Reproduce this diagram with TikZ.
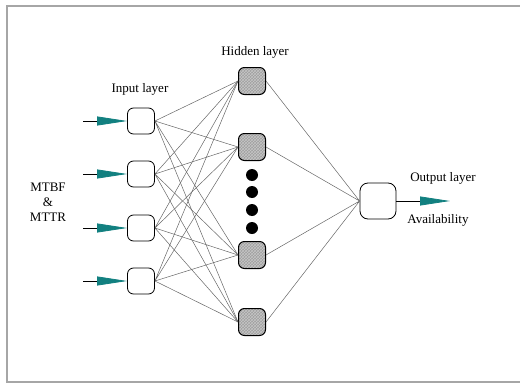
\documentclass[tikz,border=0pt]{standalone}
\usepackage{fontspec}
\setmainfont{Liberation Serif}
\usepackage{tikz}
\usetikzlibrary{patterns}
\usetikzlibrary{arrows.meta}

\definecolor{arrowteal}{RGB}{18,128,128}
\tikzset{
  inunit/.style={draw,line width=0.8pt,rounded corners=6pt,minimum width=27pt,minimum height=26pt,inner sep=0pt},
  hidunit/.style={draw,line width=1pt,rounded corners=6pt,minimum size=27pt,inner sep=0pt,preaction={fill=gray!75},pattern=crosshatch,pattern color=gray!45},
  outunit/.style={draw,line width=0.8pt,rounded corners=8pt,minimum size=36pt,inner sep=0pt},
  wire/.style={draw=black!60,line width=0.5pt},
  feed/.style={draw=black,line width=0.8pt,-{Triangle[length=30pt,width=9pt,color=arrowteal]}},
  lbl/.style={font=\fontsize{13}{15}\selectfont}
}

\begin{document}
\begin{tikzpicture}[x=1pt,y=-1pt]
\useasboundingbox (0,0) rectangle (520,383);
\draw[gray!70,line width=1.2pt] (520,6) -- (7,6) -- (7,382) -- (520,382);
\node[inunit] (I1) at (141,121) {};
\node[inunit] (I2) at (141,174) {};
\node[inunit] (I3) at (141,228) {};
\node[inunit] (I4) at (141,281) {};
\node[hidunit] (H1) at (252,81) {};
\node[hidunit] (H2) at (252,147) {};
\node[hidunit] (H3) at (252,255) {};
\node[hidunit] (H4) at (252,322) {};
\node[circle,fill=black,minimum size=12pt,inner sep=0pt] (D1) at (252,175) {};
\node[circle,fill=black,minimum size=12pt,inner sep=0pt] (D2) at (252,192) {};
\node[circle,fill=black,minimum size=12pt,inner sep=0pt] (D3) at (252,210) {};
\node[circle,fill=black,minimum size=12pt,inner sep=0pt] (D4) at (252,228) {};
\node[outunit] (O) at (378,201) {};
\coordinate (S1) at (83,121);
\coordinate (S2) at (83,174);
\coordinate (S3) at (83,228);
\coordinate (S4) at (83,281);
\coordinate (E) at (450,201);
\node[lbl] (inlbl) at (140,89) {Input layer};
\node[lbl] (hidlbl) at (255,52) {Hidden layer};
\node[lbl] (outlbl) at (443,178) {Output layer};
\node[lbl] (avail) at (438,220) {Availability};
\node[lbl,align=center] (mt) at (48,202) {MTBF\\\&\\MTTR};
% input -> hidden
\draw[wire] (I1.east) -- (H1.west) (I1.east) -- (H2.west) (I1.east) -- (H3.west) (I1.east) -- (H4.west);
\draw[wire] (I2.east) -- (H1.west) (I2.east) -- (H2.west) (I2.east) -- (H3.west) (I2.east) -- (H4.west);
\draw[wire] (I3.east) -- (H1.west) (I3.east) -- (H2.west) (I3.east) -- (H3.west) (I3.east) -- (H4.west);
\draw[wire] (I4.east) -- (H1.west) (I4.east) -- (H2.west) (I4.east) -- (H3.west) (I4.east) -- (H4.west);
% hidden -> output
\draw[wire] (H1.east) -- (O.west) (H2.east) -- (O.west) (H3.east) -- (O.west) (H4.east) -- (O.west);
% inputs and output
\draw[feed] (S1) -- (I1.west);
\draw[feed] (S2) -- (I2.west);
\draw[feed] (S3) -- (I3.west);
\draw[feed] (S4) -- (I4.west);
\draw[feed] (O.east) -- (E);
\end{tikzpicture}
\end{document}
